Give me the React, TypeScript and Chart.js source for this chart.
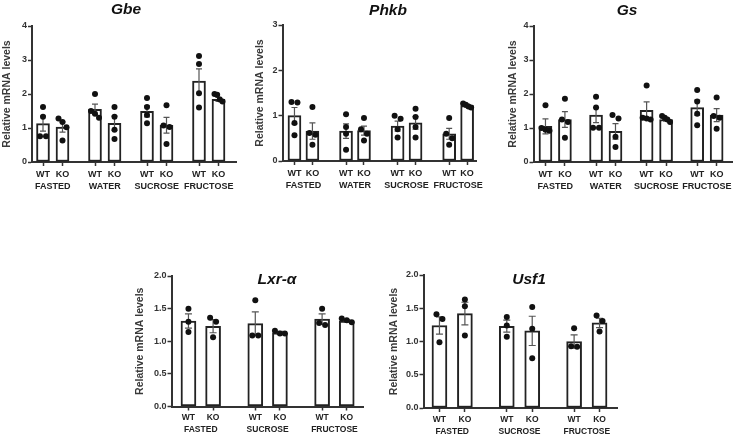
import React, { useEffect, useRef } from "react";
import { Chart, registerables } from "chart.js";

Chart.register(...registerables);

const FONT = '"Liberation Sans", Arial, Helvetica, sans-serif';

// ---------- data ----------
const GENOTYPES = ["WT", "KO"];
const GROUPS_FOUR = ["FASTED", "WATER", "SUCROSE", "FRUCTOSE"];
const GROUPS_THREE = ["FASTED", "SUCROSE", "FRUCTOSE"];
const Y_TITLE = "Relative mRNA levels";

// order: FASTED WT, FASTED KO, WATER WT, WATER KO, ...
const gbeMeans = [1.13, 1.03, 1.55, 1.14, 1.49, 1.08, 2.38, 1.84];
const gbeSems = [0.22, 0.15, 0.15, 0.21, 0.16, 0.23, 0.36, 0.06];
const gbePoints = [
  [1.62, 1.33, 0.76, 0.76],
  [1.18, 1.28, 1.02, 0.63],
  [2.0, 1.5, 1.42, 1.3],
  [1.62, 1.33, 0.95, 0.68],
  [1.88, 1.62, 1.38, 1.14],
  [1.67, 1.07, 1.03, 0.53],
  [3.12, 2.88, 2.02, 1.6],
  [2.0, 1.98, 1.84, 1.78],
];

const phkbMeans = [1.0, 0.66, 0.66, 0.67, 0.77, 0.84, 0.6, 1.22];
const phkbSems = [0.18, 0.18, 0.16, 0.1, 0.11, 0.14, 0.12, 0.03];
const phkbPoints = [
  [1.3, 1.29, 0.84, 0.57],
  [1.19, 0.62, 0.58, 0.36],
  [1.03, 0.75, 0.6, 0.25],
  [0.95, 0.7, 0.6, 0.45],
  [1.0, 0.93, 0.7, 0.52],
  [1.15, 0.97, 0.75, 0.52],
  [0.95, 0.6, 0.5, 0.36],
  [1.27, 1.24, 1.2, 1.18],
];

const gsMeans = [1.05, 1.25, 1.38, 0.9, 1.52, 1.25, 1.6, 1.38];
const gsSems = [0.22, 0.23, 0.22, 0.23, 0.25, 0.05, 0.22, 0.19];
const gsPoints = [
  [1.67, 1.0, 0.95, 0.92],
  [1.86, 1.25, 1.18, 0.71],
  [1.92, 1.6, 1.01, 1.01],
  [1.38, 1.28, 0.74, 0.44],
  [2.25, 1.3, 1.28, 1.25],
  [1.35, 1.3, 1.25, 1.18],
  [2.12, 1.78, 1.42, 1.08],
  [1.9, 1.35, 1.3, 0.98],
];

const lxrMeans = [1.31, 1.23, 1.27, 1.13, 1.34, 1.31];
const lxrSems = [0.11, 0.1, 0.18, 0.02, 0.08, 0.02];
const lxrPoints = [
  [1.5, 1.3, 1.14],
  [1.36, 1.3, 1.06],
  [1.63, 1.09, 1.09],
  [1.16, 1.12, 1.12],
  [1.5, 1.28, 1.25],
  [1.35, 1.32, 1.29],
];

const usfMeans = [1.24, 1.42, 1.23, 1.16, 1.0, 1.28];
const usfSems = [0.13, 0.17, 0.09, 0.22, 0.1, 0.07];
const usfPoints = [
  [1.41, 1.34, 0.99],
  [1.63, 1.53, 1.09],
  [1.37, 1.24, 1.07],
  [1.52, 1.19, 0.75],
  [1.2, 0.93, 0.92],
  [1.39, 1.31, 1.15],
];

// ---------- layout ----------
type Area = { l: number; t: number; r: number; b: number };
type PanelCfg = {
  title: string;
  titleX: number;
  titleY: number;
  groups: string[];
  means: number[];
  sems: number[];
  points: number[][];
  yMax: number;
  yStep: number;
  decimals: number;
  area: Area;
  firstPx: number;
  groupPx: number;
  pairPx: number;
  barW: number;
  capW: number;
  yTitleX: number;
  canvasBottom: number;
  labelSize: number;
  groupSize: number;
  xAxisH: number;
  xPad: number;
  groupPad: number;
};

const PANELS: PanelCfg[] = [
  {
    title: "Gbe", titleX: 126, titleY: 9,
    groups: GROUPS_FOUR, means: gbeMeans, sems: gbeSems, points: gbePoints,
    yMax: 4, yStep: 1, decimals: 0,
    area: { l: 32, t: 26, r: 236, b: 162 },
    firstPx: 43, groupPx: 52, pairPx: 19.5, barW: 13, capW: 6, yTitleX: 7.5,
    canvasBottom: 200, labelSize: 9, groupSize: 9, xAxisH: 18, xPad: 3.5, groupPad: 1.3,
  },
  {
    title: "Phkb", titleX: 388, titleY: 10,
    groups: GROUPS_FOUR, means: phkbMeans, sems: phkbSems, points: phkbPoints,
    yMax: 3, yStep: 1, decimals: 0,
    area: { l: 282, t: 25, r: 476, b: 161 },
    firstPx: 294, groupPx: 51.7, pairPx: 18, barW: 13, capW: 6, yTitleX: 259.5,
    canvasBottom: 200, labelSize: 9, groupSize: 9, xAxisH: 18, xPad: 3.5, groupPad: 1.3,
  },
  {
    title: "Gs", titleX: 627, titleY: 9.5,
    groups: GROUPS_FOUR, means: gsMeans, sems: gsSems, points: gsPoints,
    yMax: 4, yStep: 1, decimals: 0,
    area: { l: 533, t: 26, r: 732, b: 162 },
    firstPx: 545, groupPx: 50.7, pairPx: 19.5, barW: 13, capW: 6, yTitleX: 512.5,
    canvasBottom: 200, labelSize: 9, groupSize: 9, xAxisH: 18, xPad: 3.5, groupPad: 1.3,
  },
  {
    title: "Lxr-\u03b1", titleX: 277, titleY: 278.5,
    groups: GROUPS_THREE, means: lxrMeans, sems: lxrSems, points: lxrPoints,
    yMax: 2, yStep: 0.5, decimals: 1,
    area: { l: 171, t: 276, r: 363, b: 406.5 },
    firstPx: 188, groupPx: 67, pairPx: 24.7, barW: 15, capW: 7, yTitleX: 139.5,
    canvasBottom: 436, labelSize: 8.5, groupSize: 8.5, xAxisH: 16, xPad: 2.5, groupPad: 1.7,
  },
  {
    title: "Usf1", titleX: 529, titleY: 279,
    groups: GROUPS_THREE, means: usfMeans, sems: usfSems, points: usfPoints,
    yMax: 2, yStep: 0.5, decimals: 1,
    area: { l: 423, t: 275, r: 617, b: 408 },
    firstPx: 439, groupPx: 67.5, pairPx: 25.5, barW: 15, capW: 7, yTitleX: 393.5,
    canvasBottom: 436, labelSize: 8.5, groupSize: 8.5, xAxisH: 16, xPad: 3, groupPad: 2.5,
  },
];

// horizontal spread for overlapping dots (pixels)
function spreadOffsets(vals: number[], pxPerY: number, maxS: number): number[] {
  const order = vals.map((_, i) => i).sort((a, b) => vals[b] - vals[a]);
  const offs = vals.map(() => 0);
  const clusters: number[][] = [];
  order.forEach((id) => {
    const last = clusters[clusters.length - 1];
    if (last && (vals[last[last.length - 1]] - vals[id]) * pxPerY < 5.5) last.push(id);
    else clusters.push([id]);
  });
  clusters.forEach((c) => {
    const n = c.length;
    if (n < 2) return;
    const s = Math.min(maxS, (n - 1) * 3);
    c.forEach((id, k) => (offs[id] = -s + (2 * s * k) / (n - 1)));
  });
  return offs;
}

const semPlugin = {
  id: "semBars",
  afterDatasetDraw(chart: any, args: any) {
    if (args.index !== 0) return;
    const ds = chart.data.datasets[0];
    const sems: number[] = ds.sems;
    if (!sems) return;
    const meta = chart.getDatasetMeta(0);
    const y = chart.scales.y;
    const ctx = chart.ctx;
    ctx.save();
    ctx.strokeStyle = "#555";
    ctx.lineWidth = 1.2;
    meta.data.forEach((el: any, i: number) => {
      const m = ds.data[i].y;
      const s = sems[i];
      const x = el.x;
      const yt = y.getPixelForValue(m + s);
      const yb = y.getPixelForValue(m - s);
      const cw = ds.capWidth / 2;
      ctx.beginPath();
      ctx.moveTo(x, yt);
      ctx.lineTo(x, yb);
      ctx.moveTo(x - cw, yt);
      ctx.lineTo(x + cw, yt);
      ctx.moveTo(x - cw, yb);
      ctx.lineTo(x + cw, yb);
      ctx.stroke();
    });
    ctx.restore();
  },
};

const Y_TITLE_SIZE = 10.5;

function Panel({ cfg }: { cfg: PanelCfg }) {
  const ref = useRef<HTMLCanvasElement>(null);
  const canvasLeft = Math.max(0, cfg.yTitleX - 10);
  const canvasRight = cfg.area.r + 14;
  const canvasTop = cfg.area.t - 14;
  const canvasW = canvasRight - canvasLeft;
  const canvasH = cfg.canvasBottom - canvasTop;

  useEffect(() => {
    if (!ref.current) return;
    const a = cfg.area;
    const unit = cfg.groupPx;
    const xMin = -(cfg.firstPx - a.l) / unit;
    const xMax = xMin + (a.r - a.l) / unit;
    const pairU = cfg.pairPx / unit;
    const barXs: number[] = [];
    cfg.groups.forEach((_, gi) => GENOTYPES.forEach((__, k) => barXs.push(gi + k * pairU)));
    const groupXs = cfg.groups.map((_, gi) => gi + pairU / 2);
    const pxPerY = (a.b - a.t) / cfg.yMax;
    const barData = cfg.means.map((m, i) => ({ x: barXs[i], y: m }));
    const pts: { x: number; y: number }[] = [];
    cfg.points.forEach((vals, i) => {
      const offs = spreadOffsets(vals, pxPerY, cfg.barW / 2 - 2.5);
      vals.forEach((v, j) => pts.push({ x: barXs[i] + offs[j] / unit, y: v }));
    });
    const lh = Y_TITLE_SIZE * 1.2;
    const yTitlePad = cfg.yTitleX - canvasLeft - lh / 2;
    const groupAxisH = canvasH - (a.b - canvasTop) - cfg.xAxisH;

    const chart = new Chart(ref.current, {
      type: "bar",
      data: {
        datasets: [
          {
            type: "bar",
            data: barData as any,
            backgroundColor: "#ffffff",
            borderColor: "#222222",
            borderWidth: 2,
            borderSkipped: false,
            barThickness: cfg.barW,
            order: 2,
            xAxisID: "x",
            yAxisID: "y",
            sems: cfg.sems,
            capWidth: cfg.capW,
          } as any,
          {
            type: "scatter",
            data: pts as any,
            pointRadius: 3,
            pointBackgroundColor: "#111111",
            pointBorderWidth: 0,
            showLine: false,
            order: 1,
            xAxisID: "x",
            yAxisID: "y",
          } as any,
        ],
      },
      options: {
        responsive: false,
        animation: false,
        devicePixelRatio: 1,
        layout: { padding: { top: a.t - canvasTop, right: canvasRight - a.r, left: 0, bottom: 0 } },
        plugins: { legend: { display: false }, tooltip: { enabled: false }, title: { display: false } },
        scales: {
          x: {
            type: "linear",
            position: "bottom",
            weight: 0,
            min: xMin,
            max: xMax,
            offset: false,
            grid: { display: true, offset: false, drawOnChartArea: false, drawTicks: true, tickLength: 4, color: "#333", tickWidth: 1.5 },
            border: { display: true, color: "#333", width: 2 },
            afterBuildTicks: (s: any) => {
              s.ticks = barXs.map((v) => ({ value: v }));
            },
            afterFit: (s: any) => {
              s.height = cfg.xAxisH;
            },
            ticks: {
              autoSkip: false,
              maxRotation: 0,
              minRotation: 0,
              padding: cfg.xPad,
              color: "#222",
              font: { family: FONT, size: cfg.labelSize, weight: "bold" },
              callback: (_v: any, i: number) => GENOTYPES[i % 2],
            },
          } as any,
          xg: {
            type: "linear",
            position: "bottom",
            weight: 1,
            min: xMin,
            max: xMax,
            offset: false,
            grid: { display: false, drawTicks: false, offset: false },
            border: { display: false },
            afterBuildTicks: (s: any) => {
              s.ticks = groupXs.map((v) => ({ value: v }));
            },
            afterFit: (s: any) => {
              s.height = groupAxisH;
            },
            ticks: {
              autoSkip: false,
              maxRotation: 0,
              minRotation: 0,
              padding: cfg.groupPad,
              color: "#222",
              font: { family: FONT, size: cfg.groupSize, weight: "bold" },
              callback: (_v: any, i: number) => cfg.groups[i],
            },
          } as any,
          y: {
            type: "linear",
            position: "left",
            min: 0,
            max: cfg.yMax,
            grid: { display: true, drawOnChartArea: false, drawTicks: true, tickLength: 4, color: "#333", tickWidth: 1.5 },
            border: { display: true, color: "#333", width: 2 },
            ticks: {
              stepSize: cfg.yStep,
              padding: 1,
              color: "#333",
              font: { family: FONT, size: 9, weight: "bold" },
              callback: (v: any) => Number(v).toFixed(cfg.decimals),
            },
            title: {
              display: true,
              text: Y_TITLE,
              color: "#3a3a3a",
              font: { family: FONT, size: Y_TITLE_SIZE, weight: "bold" },
              padding: { top: yTitlePad, bottom: 0 },
            },
            afterFit: (s: any) => {
              s.width = a.l - canvasLeft;
            },
          } as any,
        },
      },
      plugins: [semPlugin as any],
    });
    return () => chart.destroy();
  }, []);

  return (
    <>
      <canvas
        ref={ref}
        width={canvasW}
        height={canvasH}
        style={{ position: "absolute", left: canvasLeft, top: canvasTop, width: canvasW, height: canvasH }}
      />
      <div
        style={{
          position: "absolute",
          left: cfg.titleX,
          top: cfg.titleY,
          transform: "translate(-50%, -50%)",
          font: `italic bold 15.5px ${FONT}`,
          lineHeight: 1,
          whiteSpace: "nowrap",
          color: "#111",
        }}
      >
        {cfg.title}
      </div>
    </>
  );
}

export default function App() {
  return (
    <div
      style={{
        position: "absolute",
        left: 0,
        top: 0,
        width: 738,
        height: 436,
        overflow: "hidden",
        background: "#ffffff",
      }}
    >
      {PANELS.map((p) => (
        <Panel key={p.title} cfg={p} />
      ))}
    </div>
  );
}
